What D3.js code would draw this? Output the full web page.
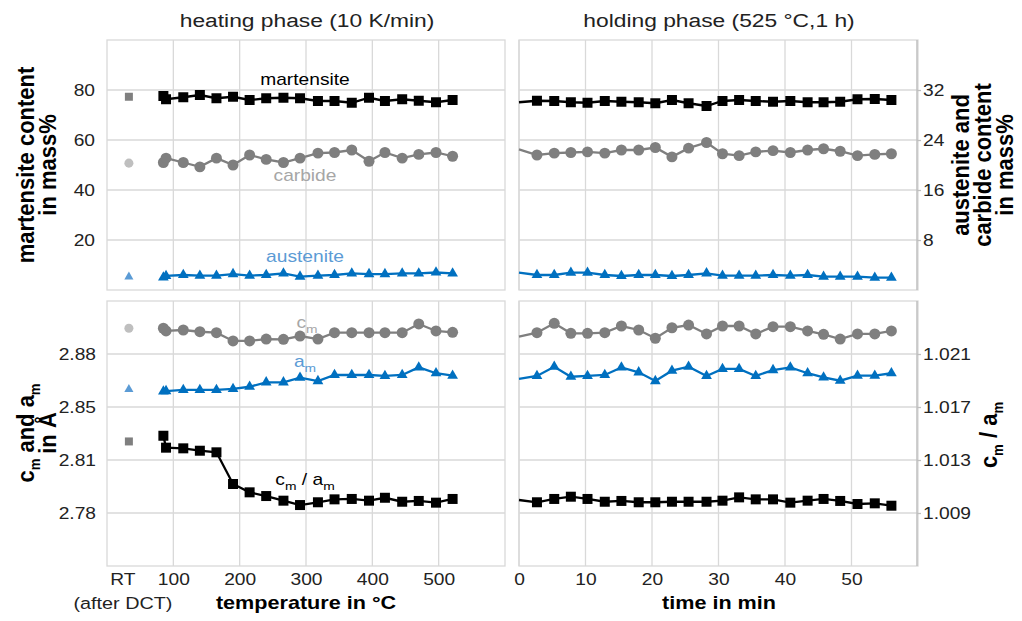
<!DOCTYPE html>
<html>
<head>
<meta charset="utf-8">
<script src="https://cdn.jsdelivr.net/npm/d3@7"></script>
<style>
  body { margin: 0; background: #fff; }
  text { font-family: "Liberation Sans", Arial, sans-serif; }
</style>
</head>
<body>
<div id="chart"></div>
<script>
// heating phase (temperature in °C)
var heatTemp = [85, 89, 115, 140, 165, 190, 215, 240, 266, 291, 318, 343, 369, 395, 419, 445, 470, 496, 521];
var heatMartensite = [77.6, 76.3, 77.1, 78.0, 76.7, 77.3, 76.0, 76.7, 76.9, 76.7, 75.6, 75.6, 74.9, 76.9, 75.6, 76.3, 75.7, 75.1, 76.0];
var heatCarbide = [20.4, 21.1, 20.4, 19.7, 21.1, 20.0, 21.6, 20.9, 20.4, 21.1, 21.9, 22.0, 22.4, 20.6, 22.0, 21.1, 21.7, 22.0, 21.4];
var heatAustenite = [2.0, 2.25, 2.4, 2.3, 2.3, 2.55, 2.3, 2.4, 2.65, 2.15, 2.3, 2.4, 2.65, 2.55, 2.55, 2.65, 2.65, 2.8, 2.65];
var heatCm = [2.8962, 2.8945, 2.8951, 2.8940, 2.8934, 2.8882, 2.8882, 2.8894, 2.8892, 2.8913, 2.8894, 2.8934, 2.8934, 2.8934, 2.8934, 2.8934, 2.8989, 2.8945, 2.8936];
var heatAm = [2.8565, 2.8567, 2.8574, 2.8574, 2.8574, 2.8580, 2.8594, 2.8622, 2.8622, 2.8651, 2.8630, 2.8668, 2.8668, 2.8668, 2.8662, 2.8668, 2.8716, 2.8679, 2.8664];
var heatRatio = [1.01483, 1.01393, 1.01388, 1.01370, 1.01358, 1.01119, 1.01056, 1.01028, 1.00993, 1.00960, 1.00981, 1.01003, 1.01006, 1.00993, 1.01015, 1.00985, 1.00991, 1.00978, 1.01006];

// holding phase (time in min)
var holdTime = [0, 2.7, 5.3, 7.8, 10.3, 12.9, 15.4, 18.0, 20.5, 23.0, 25.5, 28.2, 30.6, 33.1, 35.6, 38.2, 40.8, 43.4, 45.8, 48.3, 50.9, 53.5, 56.0];
var holdMartensite = [75.1, 75.7, 75.6, 75.1, 74.9, 75.6, 75.3, 75.1, 74.7, 76.0, 74.7, 73.6, 75.6, 76.0, 75.6, 75.3, 75.6, 75.1, 75.1, 75.3, 76.3, 76.4, 76.0];
var holdCarbide = [22.5, 21.6, 21.9, 22.0, 22.1, 21.9, 22.4, 22.4, 22.8, 21.3, 22.7, 23.6, 21.8, 21.5, 22.1, 22.3, 22.0, 22.4, 22.6, 22.2, 21.5, 21.7, 21.8];
var holdAustenite = [2.77, 2.4, 2.4, 2.77, 2.77, 2.4, 2.24, 2.4, 2.4, 2.24, 2.4, 2.67, 2.29, 2.29, 2.29, 2.4, 2.29, 2.4, 2.13, 2.13, 2.13, 1.97, 1.97];
var holdCm = [2.8909, 2.8934, 2.8993, 2.8930, 2.8930, 2.8934, 2.8976, 2.8951, 2.8899, 2.8965, 2.8982, 2.8926, 2.8976, 2.8976, 2.8926, 2.8972, 2.8972, 2.8945, 2.8924, 2.8894, 2.8926, 2.8926, 2.8945];
var holdAm = [2.8643, 2.8662, 2.8720, 2.8657, 2.8662, 2.8668, 2.8716, 2.8685, 2.8630, 2.8695, 2.8720, 2.8662, 2.8706, 2.8706, 2.8662, 2.8699, 2.8716, 2.8679, 2.8653, 2.8632, 2.8664, 2.8664, 2.8679];
var holdRatio = [1.00998, 1.00981, 1.01006, 1.01023, 1.01006, 1.00985, 1.00991, 1.00981, 1.00981, 1.00985, 1.00985, 1.00985, 1.00993, 1.01018, 1.01003, 1.01003, 1.00978, 1.00993, 1.01006, 1.00991, 1.00968, 1.00973, 1.00955];

// room temperature after DCT
var rtPos = 33;
var rtMartensite = 77.3, rtCarbide = 20.3, rtAustenite = 2.1;
var rtCm = 2.8962, rtAm = 2.8578, rtRatio = 1.0144;

// ticks
var heatTicks = [100, 200, 300, 400, 500];
var holdTicks = [0, 10, 20, 30, 40, 50];
var massTicks = [20, 40, 60, 80];
var acTicks = [8, 16, 24, 32];
var latTicks = [2.78, 2.81333, 2.84667, 2.88];
var ratioTicks = [1.009, 1.013, 1.017, 1.021];

var width = 1022, height = 621;
var sx = 1.2; // text in the picture is a bit wide
var sxRot = 1.1; // rotated titles

var svg = d3.select('#chart')
    .append('svg')
    .attr('width', width)
    .attr('height', height);

// scales
var xHeat = d3.scaleLinear().domain([0, 600]).range([107, 505]);
var xHold = d3.scaleLinear().domain([0, 60]).range([519, 918]);
var yMass = d3.scaleLinear().domain([0, 100]).range([290, 40]);
var yAC = d3.scaleLinear().domain([0, 40]).range([290, 40]);
var yLat = d3.scaleLinear().domain([2.74667, 2.91333]).range([566, 301]);
var yRatio = d3.scaleLinear().domain([1.005, 1.025]).range([566, 301]);

var grey = '#d9d9d9';

// panel frame + gridlines
function panel(x, y, xt, yt) {
    var g = svg.append('g');
    g.selectAll('line.v')
        .data(xt)
        .enter()
        .append('line')
        .attr('x1', function (d) { return x(d); })
        .attr('x2', function (d) { return x(d); })
        .attr('y1', y.range()[0])
        .attr('y2', y.range()[1])
        .attr('stroke', grey)
        .attr('stroke-width', 1.3);
    g.selectAll('line.h')
        .data(yt)
        .enter()
        .append('line')
        .attr('x1', x.range()[0])
        .attr('x2', x.range()[1])
        .attr('y1', function (d) { return y(d); })
        .attr('y2', function (d) { return y(d); })
        .attr('stroke', grey)
        .attr('stroke-width', 1.3);
    g.append('rect')
        .attr('x', x.range()[0])
        .attr('y', y.range()[1])
        .attr('width', x.range()[1] - x.range()[0])
        .attr('height', y.range()[0] - y.range()[1])
        .attr('fill', 'none')
        .attr('stroke', grey)
        .attr('stroke-width', 1.3);
}

panel(xHeat, yMass, heatTicks, massTicks);
panel(xHold, yMass, holdTicks, massTicks);
panel(xHeat, yLat, heatTicks, latTicks);
panel(xHold, yLat, holdTicks, latTicks);

// stretch tick labels like in the picture
function styleTicks(g, anchorX) {
    g.select('.domain').remove();
    g.selectAll('text')
        .style('font-size', '16px')
        .style('font-family', '"Liberation Sans", Arial, sans-serif')
        .attr('fill', '#222')
        .attr('x', null)
        .attr('transform', 'translate(' + anchorX + ',0) scale(' + sx + ',1)');
}

svg.append('g')
    .attr('transform', 'translate(107,0)')
    .call(d3.axisLeft(yMass).tickValues(massTicks).tickSize(0))
    .call(styleTicks, -12);

svg.append('g')
    .attr('transform', 'translate(107,0)')
    .call(d3.axisLeft(yLat).tickValues(latTicks).tickSize(0).tickFormat(d3.format('.2f')))
    .call(styleTicks, -11);

// right axes have a visible axis line with small ticks
function rightAxis(y, ticks, fmt, y0, y1) {
    var g = svg.append('g').attr('transform', 'translate(917,0)');
    g.call(d3.axisRight(y).tickValues(ticks).tickSize(4).tickFormat(fmt));
    g.select('.domain').remove();
    g.selectAll('.tick line').attr('stroke', '#bfbfbf').attr('stroke-width', 1.3);
    g.selectAll('text')
        .style('font-size', '16px')
        .attr('fill', '#222')
        .attr('x', null)
        .attr('transform', 'translate(6,0) scale(' + sx + ',1)');
    g.append('line')
        .attr('y1', y0).attr('y2', y1)
        .attr('stroke', '#bfbfbf')
        .attr('stroke-width', 1.5);
}
rightAxis(yAC, acTicks, d3.format('d'), 40, 290);
rightAxis(yRatio, ratioTicks, d3.format('.3f'), 301, 566);

function bottomAxis(x, ticks) {
    svg.append('g')
        .attr('transform', 'translate(0,566)')
        .call(d3.axisBottom(x).tickValues(ticks).tickSize(0).tickPadding(8))
        .call(function (g) {
            g.select('.domain').remove();
            g.selectAll('text')
                .style('font-size', '16px')
                .attr('fill', '#222')
                .attr('transform', 'scale(' + sx + ',1)');
        });
}
bottomAxis(xHeat, heatTicks);
bottomAxis(xHold, holdTicks);

// text helper
function label(x, y, size, weight, color, rot) {
    var s = rot ? sxRot : sx;
    return svg.append('text')
        .attr('transform', 'translate(' + x + ',' + y + ') scale(' + s + ',1)' + (rot ? ' rotate(' + rot + ')' : ''))
        .attr('text-anchor', 'middle')
        .style('font-size', size + 'px')
        .style('font-weight', weight)
        .attr('fill', color);
}

// text pieces with subscripts: [string, isSub]
function parts(t, list, subSize) {
    var shift = 0;
    list.forEach(function (p) {
        var s = p[1] ? 5 : 0;
        t.append('tspan')
            .attr('dy', s - shift)
            .style('font-size', p[1] ? (subSize || '0.72em') : null)
            .text(p[0]);
        shift = s;
    });
    return t;
}

// series
function series(x, y, xs, ys, color, shape, size, from) {
    var pts = xs.map(function (v, i) { return [v, ys[i]]; });
    svg.append('path')
        .datum(pts)
        .attr('d', d3.line().x(function (d) { return x(d[0]); }).y(function (d) { return y(d[1]); }))
        .attr('fill', 'none')
        .attr('stroke', color)
        .attr('stroke-width', 2.3);
    svg.append('g').selectAll('path')
        .data(pts.slice(from))
        .enter()
        .append('path')
        .attr('transform', function (d) { return 'translate(' + x(d[0]) + ',' + y(d[1]) + ')'; })
        .attr('d', d3.symbol().type(shape).size(size))
        .attr('fill', color);
}

function rtMark(y, v, color, shape, size) {
    svg.append('path')
        .attr('transform', 'translate(' + xHeat(rtPos) + ',' + y(v) + ')')
        .attr('d', d3.symbol().type(shape).size(size))
        .attr('fill', color);
}

var cBlack = '#000000', cGrey = '#7f7f7f', cBlue = '#0070c0';

// top panels
series(xHeat, yMass, heatTemp, heatMartensite, cBlack, d3.symbolSquare, 100, 0);
series(xHeat, yAC, heatTemp, heatCarbide, cGrey, d3.symbolCircle, 95, 0);
series(xHeat, yAC, heatTemp, heatAustenite, cBlue, d3.symbolTriangle, 50, 0);
series(xHold, yMass, holdTime, holdMartensite, cBlack, d3.symbolSquare, 100, 1);
series(xHold, yAC, holdTime, holdCarbide, cGrey, d3.symbolCircle, 95, 1);
series(xHold, yAC, holdTime, holdAustenite, cBlue, d3.symbolTriangle, 50, 1);

// bottom panels
series(xHeat, yLat, heatTemp, heatCm, cGrey, d3.symbolCircle, 95, 0);
series(xHeat, yLat, heatTemp, heatAm, cBlue, d3.symbolTriangle, 50, 0);
series(xHeat, yRatio, heatTemp, heatRatio, cBlack, d3.symbolSquare, 100, 0);
series(xHold, yLat, holdTime, holdCm, cGrey, d3.symbolCircle, 95, 1);
series(xHold, yLat, holdTime, holdAm, cBlue, d3.symbolTriangle, 50, 1);
series(xHold, yRatio, holdTime, holdRatio, cBlack, d3.symbolSquare, 100, 1);

// RT (after DCT) reference markers
rtMark(yMass, rtMartensite, '#7f7f7f', d3.symbolSquare, 64);
rtMark(yAC, rtCarbide, '#bfbfbf', d3.symbolCircle, 64);
rtMark(yAC, rtAustenite, '#5b9bd5', d3.symbolTriangle, 36);
rtMark(yLat, rtCm, '#bfbfbf', d3.symbolCircle, 64);
rtMark(yLat, rtAm, '#5b9bd5', d3.symbolTriangle, 36);
rtMark(yRatio, rtRatio, '#7f7f7f', d3.symbolSquare, 64);

// series names
label(305, 85, 16, 'normal', '#000').text('martensite');
label(305, 181, 16, 'normal', '#a6a6a6').text('carbide');
label(305, 262, 16, 'normal', '#5b9bd5').text('austenite');
parts(label(307, 328, 16, 'normal', '#a6a6a6'), [['c', false], ['m', true]]);
parts(label(305, 367, 16, 'normal', '#5b9bd5'), [['a', false], ['m', true]]);
parts(label(305, 485, 16, 'normal', '#000'), [['c', false], ['m', true], [' / a', false], ['m', true]]);

// titles
label(307, 27, 19, 'normal', '#222').text('heating phase (10 K/min)');
label(719, 27, 19, 'normal', '#222').text('holding phase (525 °C,1 h)');

// x labels
label(xHeat(24), 585, 16, 'normal', '#222').text('RT');
label(xHeat(24), 609, 16.5, 'normal', '#222').text('(after DCT)');
label(306, 609, 18, 'bold', '#000').text('temperature in °C');
label(719, 609, 18, 'bold', '#000').text('time in min');

// y titles
label(34, 165, 22, 'bold', '#000', -90).text('martensite content');
label(56, 165, 22, 'bold', '#000', -90).text('in mass%');
parts(label(34, 433, 22, 'bold', '#000', -90), [['c', false], ['m', true], [' and a', false], ['m', true]], '0.6em');
label(56, 433, 22, 'bold', '#000', -90).text('in Å');
label(969, 165, 22, 'bold', '#000', -90).text('austenite and');
label(991, 165, 22, 'bold', '#000', -90).text('carbide content');
label(1013, 165, 22, 'bold', '#000', -90).text('in mass%');
parts(label(997, 435, 22, 'bold', '#000', -90), [['c', false], ['m', true], [' / a', false], ['m', true]], '0.6em');
</script>
</body>
</html>
